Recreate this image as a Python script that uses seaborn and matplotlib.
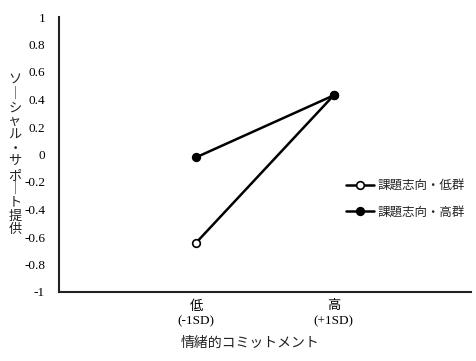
import matplotlib
matplotlib.use("Agg")
import matplotlib.pyplot as plt
import seaborn as sns
import pandas as pd

categories = ["低\n(-1SD)", "高\n(+1SD)"]
groups = ["課題志向・低群", "課題志向・高群"]
low_group = [-0.64, 0.43]
high_group = [-0.02, 0.43]
y_ticks = [1, 0.8, 0.6, 0.4, 0.2, 0, -0.2, -0.4, -0.6, -0.8, -1]
y_label = "ソーシャル・サポート提供"
x_label = "情緒的コミットメント"

sns.set_style("white")
plt.rcParams['font.family'] = ['Liberation Serif', 'Noto Sans CJK JP', 'DejaVu Sans']

df = pd.DataFrame({
    "pos": list(range(len(categories))) * 2,
    "value": low_group + high_group,
    "group": [groups[0]] * len(categories) + [groups[1]] * len(categories),
})

fig = plt.figure(figsize=(4.77, 3.61), dpi=100)
ax = fig.add_axes([59/477, 1-292/361, (471-59)/477, (292-17)/361])

faces = ["white", "black"]
for g, fc in zip(groups, faces):
    sub = df[df["group"] == g]
    sns.lineplot(data=sub, x="pos", y="value", ax=ax, color="black", linewidth=1.8,
                 marker="o", markersize=5.5, markerfacecolor=fc, markeredgecolor="black",
                 markeredgewidth=1.2, label=g)

ax.set_xlim(-1, 2)
ax.set_ylim(-1, 1)
ax.set_xticks([-1, 0, 1, 2])
ax.set_xticklabels([""] + categories + [""])
ax.set_yticks(y_ticks)
ax.set_yticklabels([f"{v:g}" for v in y_ticks])
for s in ["top", "right"]:
    ax.spines[s].set_visible(False)
for s in ["left", "bottom"]:
    ax.spines[s].set_color("#222222")
    ax.spines[s].set_linewidth(1.5)
ax.tick_params(axis="both", direction="in", length=3, width=1, colors="black", labelsize=9.5)
ax.tick_params(axis="x", pad=6)
ax.tick_params(axis="y", pad=10)
for lbl in ax.get_xticklabels():
    lbl.set_linespacing(1.3)
ax.set_xlabel("")
ax.set_ylabel("")

vert = "\n".join(ch if ch != "ー" else "｜" for ch in y_label)
fig.text(15/477, 1-155/361, vert, ha="center", va="center", fontsize=9.5,
         family=['Noto Sans CJK JP'], linespacing=1.05, color="#222222")
fig.text(250/477, 1-343/361, x_label, ha="center", va="center", fontsize=10,
         family=['Noto Sans CJK JP'], color="#222222")

leg = ax.legend(loc="center left", bbox_to_anchor=(335/477, 1-199/361),
                bbox_transform=fig.transFigure, frameon=False, handlelength=2.2,
                handletextpad=0.3, labelspacing=1.1,
                prop={"family": "Noto Sans CJK JP", "size": 9})

fig.savefig("out.png", dpi=100)
